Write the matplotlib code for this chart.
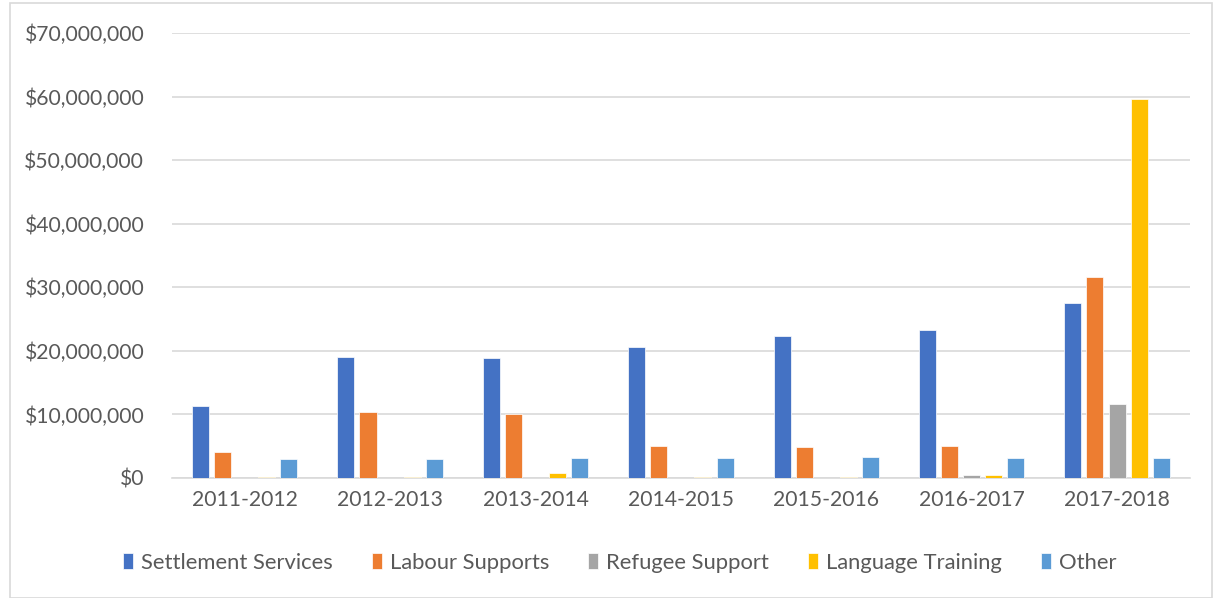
import matplotlib
matplotlib.use('Agg')
import matplotlib.pyplot as plt
import numpy as np
from matplotlib.patches import Rectangle
from matplotlib.ticker import FuncFormatter

# Данные (в долларах)
years = ['2011-2012', '2012-2013', '2013-2014', '2014-2015', '2015-2016', '2016-2017', '2017-2018']
settlement = [11.3e6, 19.0e6, 18.9e6, 20.6e6, 22.3e6, 23.3e6, 27.5e6]
labour = [4.1e6, 10.4e6, 10.1e6, 5.0e6, 4.9e6, 5.0e6, 31.6e6]
refugee = [0, 0, 0, 0, 0, 0.4e6, 11.6e6]
language = [0.1e6, 0.2e6, 0.8e6, 0.1e6, 0.2e6, 0.4e6, 59.6e6]
other = [3.0e6, 3.0e6, 3.1e6, 3.1e6, 3.3e6, 3.1e6, 3.1e6]

series = ['Settlement Services', 'Labour Supports', 'Refugee Support', 'Language Training', 'Other']
colors = ['#4472C4', '#ED7D31', '#A5A5A5', '#FFC000', '#5B9BD5']

plt.rcParams['font.family'] = ['Lato', 'DejaVu Sans']

fig = plt.figure(figsize=(12.14, 5.98), dpi=100)
ax = fig.add_axes([0.1417, 0.2007, 0.8383, 0.7441])

# рамка вокруг всего графика
fig.patches.append(Rectangle((0.008, 0.0), 0.99, 0.995, transform=fig.transFigure,
                             fill=False, edgecolor='#d9d9d9', linewidth=1.2))

x = np.arange(len(years))
step = 0.152
width = 0.117
for i, (name, vals) in enumerate(zip(series, [settlement, labour, refugee, language, other])):
    ax.bar(x + (i - 2) * step, vals, width, color=colors[i], label=name,
           edgecolor='white', linewidth=0.5, zorder=3)

ax.set_xlim(-0.5, len(years) - 0.5)
ax.set_ylim(0, 70e6)
ax.set_yticks(np.arange(0, 70e6 + 1, 10e6))
ax.yaxis.set_major_formatter(FuncFormatter(lambda v, p: f'${v:,.0f}'))
ax.set_xticks(x)
ax.set_xticklabels(years)

ax.yaxis.grid(True, color='#d9d9d9', linewidth=1.2)
ax.set_axisbelow(True)
for s in ['top', 'right', 'left']:
    ax.spines[s].set_visible(False)
ax.spines['bottom'].set_color('#d9d9d9')
ax.spines['bottom'].set_linewidth(1.2)
ax.tick_params(axis='both', length=0, labelsize=15.2, colors='#595959')
ax.tick_params(axis='y', pad=20)
ax.tick_params(axis='x', pad=9)

leg = ax.legend(loc='center', bbox_to_anchor=(0.44, -0.19), ncol=5, frameon=False,
                fontsize=15.8, handlelength=0.45, handleheight=0.7, handletextpad=0.35,
                columnspacing=1.8)
for t in leg.get_texts():
    t.set_color('#595959')

plt.savefig('out.png', dpi=100)
plt.close(fig)
